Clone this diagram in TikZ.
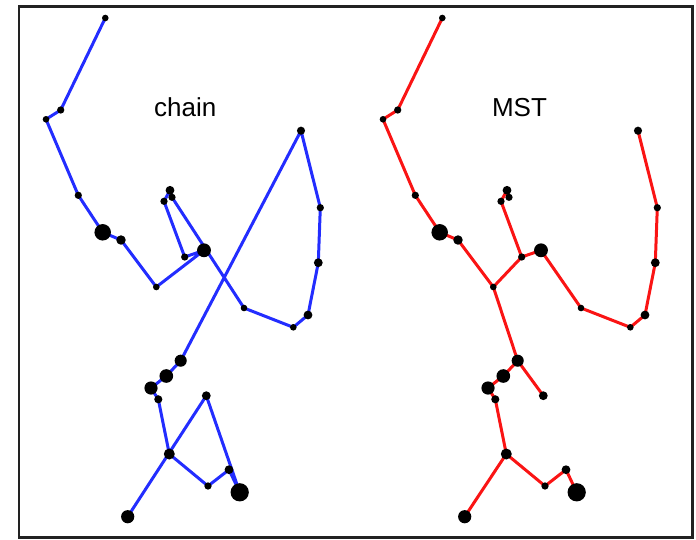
\documentclass[tikz,border=0pt]{standalone}
\usepackage{fontspec}
\setmainfont{Liberation Sans}
\usetikzlibrary{backgrounds}

\definecolor{chainblue}{RGB}{35,45,255}
\definecolor{mstred}{RGB}{250,20,20}
\definecolor{framegray}{RGB}{34,34,34}

\tikzset{
  dot/.style={circle, fill=black, inner sep=0pt, outer sep=0pt},
  chainline/.style={draw=chainblue, line width=3pt, line join=round},
  mstline/.style={draw=mstred, line width=3pt, line join=round},
  paneltitle/.style={font=\fontsize{26}{30}\selectfont, inner sep=0pt, anchor=base},
  frameline/.style={draw=framegray, line width=2.6pt}
}

\begin{document}
\begin{tikzpicture}[x=1pt, y=-1pt]
  \useasboundingbox (0,0) rectangle (696,539);
  \draw[frameline] (19,6.3) rectangle (692.3,537.5);

  % points of the walk: index / x / y / radius; right panel is shifted by 337
  \foreach \n/\px/\py/\r in {
     1/105.3/18/3.0,   2/60.7/110/3.3,    3/46/119.3/3.0,    4/78.3/195.3/3.3,
     5/102.7/232.3/7.5, 6/121/240/4.3,    7/156.3/287/3.0,   8/204/250.3/6.3,
     9/184.7/257/3.3,  10/164/201.3/3.3, 11/170/190.3/4.0,  12/172/197.3/3.3,
    13/244/308/3.0,   14/293.3/327.3/3.0, 15/308/315/4.0,   16/318.3/262.7/4.0,
    17/320.3/207.7/3.3, 18/301/130.7/3.7, 19/180.7/360.7/5.5, 20/166.3/376/6.2,
    21/151/388/6.0,   22/158.3/399.3/3.7, 23/169.3/454/5.0, 24/208/486/3.3,
    25/229/469.7/4.0, 26/239.7/492.3/8.3, 27/206.3/395.7/4.0, 28/127.7/516.7/6.0}
  {
    \node[dot, minimum size=2.2*\r pt] (L\n) at (\px,\py) {};
    \node[dot, minimum size=2.2*\r pt] (R\n) at (\px+337,\py) {};
  }

  \node[paneltitle] (chainlabel) at (185.3,116.3) {chain};
  \node[paneltitle] (mstlabel) at (519.5,116.3) {MST};

  \begin{pgfonlayer}{background}
    % the chain, visiting the points in order
    \draw[chainline] (L1.center) -- (L2.center) -- (L3.center) -- (L4.center)
      -- (L5.center) -- (L6.center) -- (L7.center) -- (L8.center) -- (L9.center)
      -- (L10.center) -- (L11.center) -- (L12.center) -- (L13.center)
      -- (L14.center) -- (L15.center) -- (L16.center) -- (L17.center)
      -- (L18.center) -- (L19.center) -- (L20.center) -- (L21.center)
      -- (L22.center) -- (L23.center) -- (L24.center) -- (L25.center)
      -- (L26.center) -- (L27.center) -- (L28.center);

    % the minimum spanning tree
    \draw[mstline] (R1.center) -- (R2.center) -- (R3.center) -- (R4.center)
      -- (R5.center) -- (R6.center) -- (R7.center) -- (R9.center)
      -- (R10.center) -- (R11.center) -- (R12.center);
    \draw[mstline] (R9.center) -- (R8.center) -- (R13.center) -- (R14.center)
      -- (R15.center) -- (R16.center) -- (R17.center) -- (R18.center);
    \draw[mstline] (R7.center) -- (R19.center) -- (R20.center) -- (R21.center)
      -- (R22.center) -- (R23.center) -- (R24.center) -- (R25.center)
      -- (R26.center);
    \draw[mstline] (R19.center) -- (R27.center);
    \draw[mstline] (R23.center) -- (R28.center);
  \end{pgfonlayer}
\end{tikzpicture}
\end{document}
